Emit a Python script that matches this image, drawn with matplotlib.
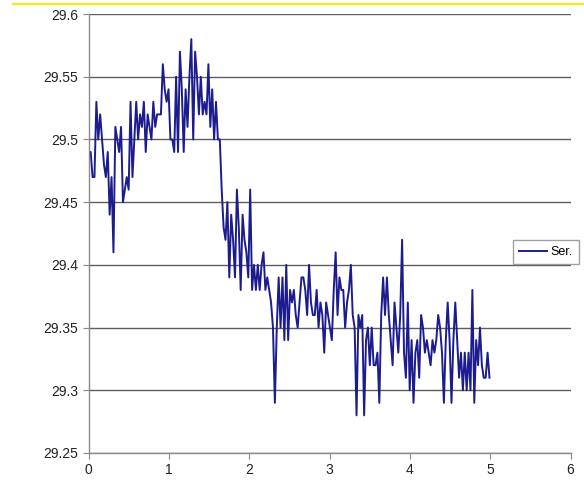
import numpy as np
import matplotlib.pyplot as plt
from matplotlib.lines import Line2D

plt.rcParams['font.family'] = ['Liberation Sans', 'DejaVu Sans']

# sampled readings, roughly 0.024 apart in x
readings = [
    29.49, 29.49, 29.47, 29.47, 29.53, 29.50, 29.52, 29.50, 29.48, 29.47,
    29.49, 29.44, 29.47, 29.41, 29.51, 29.50, 29.49, 29.51, 29.45, 29.46,
    29.47, 29.46, 29.53, 29.47, 29.50, 29.53, 29.50, 29.52, 29.51, 29.53,
    29.49, 29.52, 29.51, 29.50, 29.53, 29.51, 29.52, 29.52, 29.52, 29.56,
    29.54, 29.53,
    29.54, 29.50, 29.50, 29.49, 29.55, 29.49, 29.57, 29.54, 29.49, 29.54,
    29.51, 29.55, 29.58, 29.50, 29.57, 29.55, 29.52, 29.55, 29.52, 29.53,
    29.52, 29.56, 29.51, 29.54, 29.50, 29.53, 29.50, 29.50, 29.46, 29.43,
    29.42, 29.45, 29.39, 29.44, 29.42, 29.39, 29.46, 29.43, 29.38, 29.44,
    29.42, 29.41, 29.39,
    29.46, 29.38, 29.40, 29.38, 29.40, 29.38, 29.40, 29.41, 29.38, 29.39,
    29.38, 29.37, 29.35, 29.29, 29.35, 29.39, 29.35, 29.39, 29.34, 29.40,
    29.34, 29.38, 29.37, 29.38, 29.36, 29.35, 29.37, 29.39, 29.39, 29.38,
    29.36, 29.40, 29.37, 29.36, 29.36, 29.38, 29.35, 29.37, 29.36, 29.33,
    29.37,
    29.36, 29.35, 29.34, 29.38, 29.41, 29.36, 29.39, 29.38, 29.38, 29.35,
    29.37, 29.38, 29.40, 29.36, 29.35, 29.28, 29.36, 29.35, 29.36, 29.28,
    29.34, 29.35, 29.32, 29.35, 29.32, 29.32, 29.33, 29.29, 29.36, 29.39,
    29.36, 29.39, 29.36, 29.34, 29.32, 29.37, 29.35, 29.33, 29.36, 29.42,
    29.33, 29.31, 29.37, 29.30, 29.34, 29.29,
    29.33, 29.34, 29.31, 29.36, 29.35, 29.33, 29.34, 29.33, 29.32, 29.34,
    29.33, 29.34, 29.36, 29.35, 29.33, 29.29, 29.34, 29.37, 29.34, 29.29,
    29.34, 29.37, 29.34, 29.31, 29.33, 29.30, 29.33, 29.30, 29.33, 29.30,
    29.38, 29.29, 29.34, 29.32, 29.35, 29.32, 29.31, 29.31, 29.33, 29.31,
]
t_end = 4.99
x = np.arange(len(readings)) * t_end / (len(readings) - 1)

y_ticks = [29.25, 29.3, 29.35, 29.4, 29.45, 29.5, 29.55, 29.6]
y_labels = ['29.25', '29.3', '29.35', '29.4', '29.45', '29.5', '29.55', '29.6']
x_ticks = [0, 1, 2, 3, 4, 5, 6]

fig = plt.figure(figsize=(5.84, 4.91), dpi=100)
ax = fig.add_axes([0.152, 0.0774, 0.825, 0.894])

ax.plot(x, readings, color='#1c1c8f', lw=1.4, label='Ser.')

ax.set_xlim(0, 6)
ax.set_ylim(29.25, 29.6)
ax.set_xticks(x_ticks)
ax.set_yticks(y_ticks)
ax.set_yticklabels(y_labels)
ax.yaxis.grid(True, color='#5e5e5e', lw=1.0)
ax.set_axisbelow(True)

for side in ('top', 'right'):
    ax.spines[side].set_visible(False)
for side in ('left', 'bottom'):
    ax.spines[side].set_color('#8a8a8a')
    ax.spines[side].set_linewidth(1.0)
ax.tick_params(axis='both', direction='out', length=4, color='#8a8a8a',
               labelsize=10, labelcolor='#222222')

leg = ax.legend(loc='center left', bbox_to_anchor=(0.868, 0.487),
                bbox_transform=fig.transFigure, fontsize=9, frameon=True,
                fancybox=False, handlelength=2.2, borderpad=0.5,
                handletextpad=0.3)
leg.get_frame().set_edgecolor('#8a8a8a')
leg.get_frame().set_linewidth(1.0)

# thin yellow rule across the top
fig.add_artist(Line2D([0.022, 1.0], [0.991, 0.991], color='#f2f200', lw=1.5,
                      transform=fig.transFigure))

fig.savefig('out.png', dpi=100)
